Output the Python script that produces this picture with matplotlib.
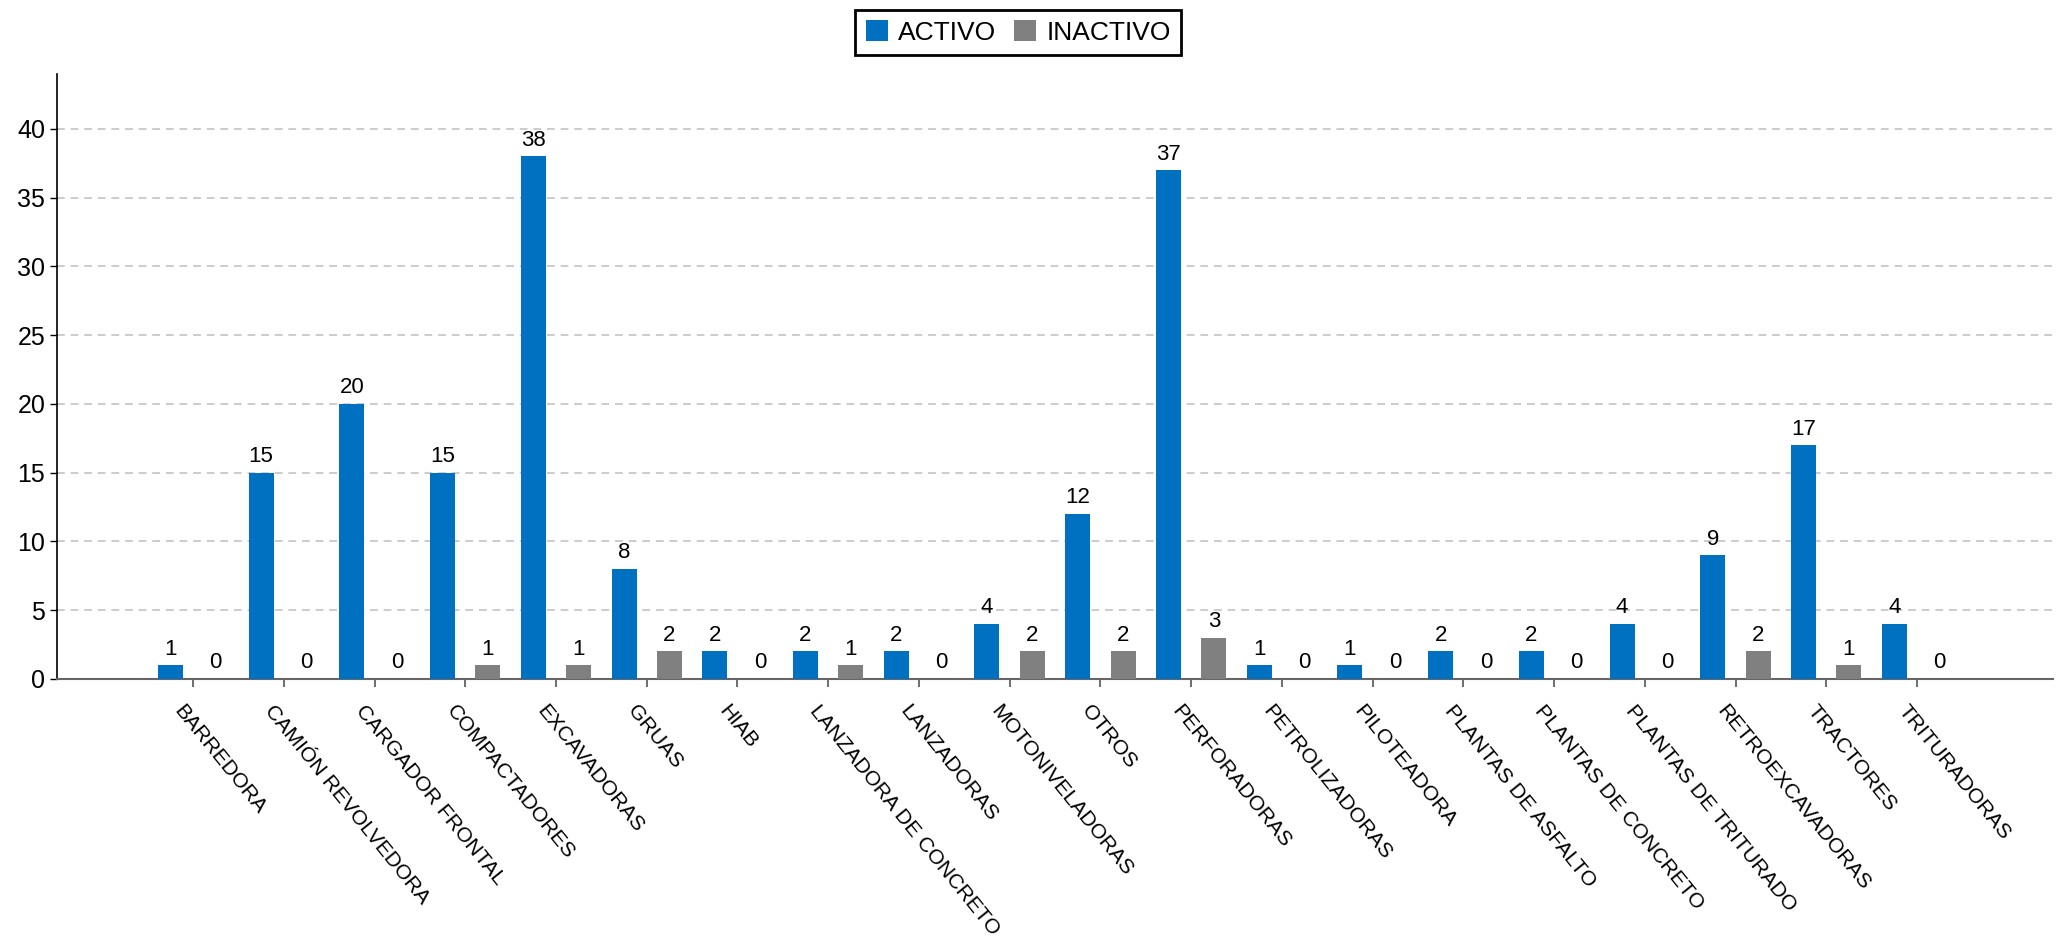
import numpy as np
import matplotlib
matplotlib.use("Agg")
import matplotlib.pyplot as plt
from matplotlib.transforms import ScaledTranslation

plt.rcParams['font.family'] = ['Liberation Sans', 'DejaVu Sans']

# Equipment counts per category
categorias = ['BARREDORA', 'CAMIÓN REVOLVEDORA', 'CARGADOR FRONTAL', 'COMPACTADORES',
              'EXCAVADORAS', 'GRUAS', 'HIAB', 'LANZADORA DE CONCRETO', 'LANZADORAS',
              'MOTONIVELADORAS', 'OTROS', 'PERFORADORAS', 'PETROLIZADORAS', 'PILOTEADORA',
              'PLANTAS DE ASFALTO', 'PLANTAS DE CONCRETO', 'PLANTAS DE TRITURADO',
              'RETROEXCAVADORAS', 'TRACTORES', 'TRITURADORAS']
activo = [1, 15, 20, 15, 38, 8, 2, 2, 2, 4, 12, 37, 1, 1, 2, 2, 4, 9, 17, 4]
inactivo = [0, 0, 0, 1, 1, 2, 0, 1, 0, 2, 2, 3, 0, 0, 0, 0, 0, 2, 1, 0]
y_ticks = [0, 5, 10, 15, 20, 25, 30, 35, 40]

AZUL = '#0070C0'
GRIS = '#808080'

fig = plt.figure(figsize=(20.63, 9.40), dpi=100)
ax = fig.add_axes([0.0276, 0.2777, 0.9676, 0.6436])

x = np.arange(len(categorias))
w = 0.275
b1 = ax.bar(x - 0.25, activo, w, color=AZUL, label='ACTIVO', zorder=3)
b2 = ax.bar(x + 0.25, inactivo, w, color=GRIS, label='INACTIVO', zorder=3)
ax.bar_label(b1, padding=4, fontsize=16)
ax.bar_label(b2, padding=4, fontsize=16)

ax.set_xlim(-1.5, 20.5)
ax.set_ylim(0, 44)
ax.set_yticks(y_ticks)
ax.tick_params(axis='y', labelsize=18, length=5, width=1)
ax.set_xticks(x)
ax.set_xticklabels(categorias, rotation=-51, ha='left', rotation_mode='anchor', fontsize=15.2)
ax.tick_params(axis='x', length=6, width=1.2, color='#555555', pad=10.5)
# nudge the rotated labels a bit to the left, like the original
shift = ScaledTranslation(-0.08, 0, fig.dpi_scale_trans)
for lbl in ax.get_xticklabels():
    lbl.set_transform(lbl.get_transform() + shift)

ax.grid(axis='y', color='#cccccc', linestyle=(0, (4, 3)), linewidth=1.4, zorder=0)
ax.spines['top'].set_visible(False)
ax.spines['right'].set_visible(False)
ax.spines['bottom'].set_color('#666666')
ax.spines['bottom'].set_linewidth(1.5)
ax.spines['left'].set_linewidth(1.2)

leg = fig.legend(loc='center', bbox_to_anchor=(0.4935, 0.9654), ncol=2, fontsize=19,
                 frameon=True, fancybox=False, edgecolor='black', framealpha=1,
                 handlelength=0.83, handleheight=0.83, handletextpad=0.38,
                 columnspacing=0.7, borderpad=0.4)
leg.get_frame().set_linewidth(2)

plt.savefig('out.png', dpi=100)
plt.close()
